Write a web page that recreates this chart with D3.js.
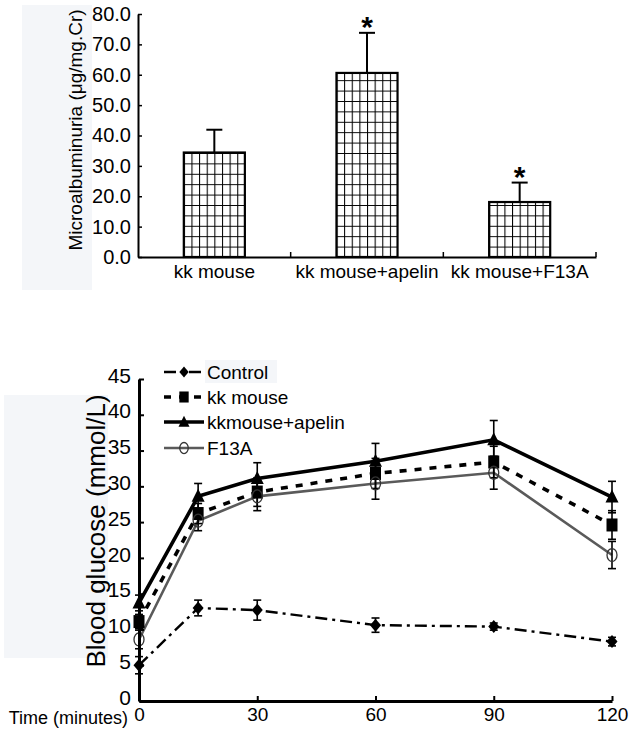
<!DOCTYPE html>
<html>
<head>
<meta charset="utf-8">
<script src="https://cdn.jsdelivr.net/npm/d3@7"></script>
<style>
  body { margin: 0; background: #fff; }
  svg { display: block; font-family: "Liberation Sans", Arial, sans-serif; }
</style>
</head>
<body>
<svg width="629" height="729"></svg>
<script>
// --- top chart data ---
var barCategories = ["kk mouse", "kk mouse+apelin", "kk mouse+F13A"];
var barMeans = [34.4, 60.6, 18.1];
var barErrors = [7.5, 13.2, 6.4];
var barStars = [false, true, true];
var barTicks = [0, 10, 20, 30, 40, 50, 60, 70, 80];

// --- bottom chart data ---
var times = [0, 15, 30, 60, 90, 120];
var seriesNames = ["Control", "kk mouse", "kkmouse+apelin", "F13A"];
var controlMean = [5.0, 13.0, 12.7, 10.6, 10.4, 8.3];
var controlErr = [1.2, 1.1, 1.4, 1.0, 0.5, 0.6];
var kkMean = [11.1, 26.2, 29.2, 31.8, 33.4, 24.6];
var kkErr = [1.0, 1.4, 2.0, 2.1, 2.2, 2.0];
var apelinMean = [13.7, 28.6, 31.1, 33.5, 36.5, 28.5];
var apelinErr = [1.1, 1.8, 2.2, 2.5, 2.7, 2.2];
var f13aMean = [8.6, 25.2, 28.6, 30.4, 31.9, 20.4];
var f13aErr = [1.3, 1.4, 2.0, 2.2, 2.3, 1.9];
var timeTicks = [0, 30, 60, 90, 120];
var glucoseTicks = [0, 5, 10, 15, 20, 25, 30, 35, 40, 45];

var svg = d3.select("svg");

// faint scan background patches
svg.append("rect").attr("x", 22).attr("y", 5).attr("width", 70).attr("height", 285).attr("fill", "#f4f6f9");
svg.append("rect").attr("x", 4).attr("y", 395).attr("width", 104).attr("height", 263).attr("fill", "#f4f6f9");
svg.append("rect").attr("x", 205).attr("y", 360).attr("width", 72).attr("height", 23).attr("fill", "#f4f6f9");

// ================= top bar chart =================
var xTop = d3.scaleBand().domain(barCategories).range([138, 596]).paddingInner(0.6).paddingOuter(0.3);
var yTop = d3.scaleLinear().domain([0, 80]).range([257, 14]);

var cellW = xTop.bandwidth() / 8, cellH = 10.4;
var pat = svg.append("defs").append("pattern")
    .attr("id", "grid")
    .attr("patternUnits", "userSpaceOnUse")
    .attr("x", xTop(barCategories[0]))
    .attr("y", yTop(0))
    .attr("width", cellW)
    .attr("height", cellH);
pat.append("rect").attr("width", cellW).attr("height", cellH).attr("fill", "#fff");
pat.append("path")
    .attr("d", "M0.5,0V" + cellH + "M0,0.5H" + cellW)
    .attr("stroke", "#000").attr("stroke-width", 1.1).attr("fill", "none");

var bars = barCategories.map(function (c, i) {
    return { name: c, mean: barMeans[i], err: barErrors[i], star: barStars[i] };
});

var gTop = svg.append("g");

bars.forEach(function (b) {
    var cx = xTop(b.name) + xTop.bandwidth() / 2;
    gTop.append("line")
        .attr("x1", cx).attr("x2", cx)
        .attr("y1", yTop(b.mean)).attr("y2", yTop(b.mean + b.err))
        .attr("stroke", "#000").attr("stroke-width", 2);
    gTop.append("line")
        .attr("x1", cx - 8).attr("x2", cx + 8)
        .attr("y1", yTop(b.mean + b.err)).attr("y2", yTop(b.mean + b.err))
        .attr("stroke", "#000").attr("stroke-width", 2);

    gTop.append("rect")
        .attr("x", xTop(b.name))
        .attr("y", yTop(b.mean))
        .attr("width", xTop.bandwidth())
        .attr("height", yTop(0) - yTop(b.mean))
        .attr("fill", "url(#grid)")
        .attr("stroke", "#000")
        .attr("stroke-width", 2.2);

    if (b.star) {
        gTop.append("text")
            .attr("x", cx)
            .attr("y", yTop(b.mean + b.err) + 4)
            .attr("text-anchor", "middle")
            .attr("font-size", 30)
            .attr("font-weight", "bold")
            .text("*");
    }
});

var yAxisTop = gTop.append("g")
    .attr("transform", "translate(138,0)")
    .call(d3.axisLeft(yTop).tickValues(barTicks).tickSize(-4).tickSizeOuter(0)
        .tickPadding(7).tickFormat(d3.format(".1f")));
yAxisTop.selectAll("text").attr("font-size", 20).attr("fill", "#000").attr("font-family", null);
yAxisTop.select(".domain").attr("stroke-width", 2);
yAxisTop.selectAll(".tick line").attr("stroke-width", 1.5);

var xAxisTop = gTop.append("g")
    .attr("transform", "translate(0,257)")
    .call(d3.axisBottom(xTop).tickSize(0).tickPadding(8));
xAxisTop.selectAll("text").attr("font-size", 19).attr("fill", "#000").attr("font-family", null);
xAxisTop.select(".domain").attr("stroke-width", 2);

d3.range(1, barCategories.length + 1).forEach(function (i) {
    var bx = xTop.range()[0] + i * xTop.step();
    gTop.append("line")
        .attr("x1", bx).attr("x2", bx)
        .attr("y1", yTop(0)).attr("y2", yTop(0) - 5)
        .attr("stroke", "#000").attr("stroke-width", 1.5);
});

gTop.append("text")
    .attr("transform", "translate(75," + 130 + ") rotate(-90)")
    .attr("text-anchor", "middle")
    .attr("dy", "0.35em")
    .attr("font-size", 19)
    .text("Microalbuminuria (\u03bcg/mg.Cr)");

// ================= bottom line chart =================
var xB = d3.scaleLinear().domain([0, 120]).range([139, 612]);
var yB = d3.scaleLinear().domain([0, 45]).range([701, 379]);

var series = [
    { name: seriesNames[0], mean: controlMean, err: controlErr, color: "#000", width: 2.4, dash: "12,5,3,5", marker: "diamond" },
    { name: seriesNames[1], mean: kkMean, err: kkErr, color: "#000", width: 3.6, dash: "7,8", marker: "square" },
    { name: seriesNames[2], mean: apelinMean, err: apelinErr, color: "#000", width: 3.6, dash: null, marker: "triangle" },
    { name: seriesNames[3], mean: f13aMean, err: f13aErr, color: "#5a5a5a", width: 2.6, dash: null, marker: "circle" }
];

function drawMarker(g, type, x, y, s) {
    s = s || 1;
    if (type === "diamond") {
        g.append("path")
            .attr("d", "M" + x + "," + (y - 6.5 * s) + "L" + (x + 5.5 * s) + "," + y + "L" + x + "," + (y + 6.5 * s) + "L" + (x - 5.5 * s) + "," + y + "Z")
            .attr("fill", "#000");
    } else if (type === "square") {
        g.append("rect")
            .attr("x", x - 5.5 * s).attr("y", y - 6.5 * s)
            .attr("width", 11 * s).attr("height", 13 * s)
            .attr("fill", "#000");
    } else if (type === "triangle") {
        g.append("path")
            .attr("d", "M" + x + "," + (y - 7.5 * s) + "L" + (x + 6.5 * s) + "," + (y + 5.5 * s) + "L" + (x - 6.5 * s) + "," + (y + 5.5 * s) + "Z")
            .attr("fill", "#000");
    } else {
        g.append("ellipse")
            .attr("cx", x).attr("cy", y)
            .attr("rx", 5 * s).attr("ry", 6.5 * s)
            .attr("fill", "none")
            .attr("stroke", "#333")
            .attr("stroke-width", 1.3);
    }
}

var gB = svg.append("g");
var line = d3.line()
    .x(function (d) { return xB(d.t); })
    .y(function (d) { return yB(d.v); });

series.forEach(function (s) {
    var pts = times.map(function (t, i) { return { t: t, v: s.mean[i], e: s.err[i] }; });
    gB.append("path")
        .datum(pts)
        .attr("d", line)
        .attr("fill", "none")
        .attr("stroke", s.color)
        .attr("stroke-width", s.width)
        .attr("stroke-dasharray", s.dash);
});

series.forEach(function (s) {
    times.forEach(function (t, i) {
        var cx = xB(t), lo = yB(s.mean[i] - s.err[i]), hi = yB(s.mean[i] + s.err[i]);
        gB.append("line").attr("x1", cx).attr("x2", cx).attr("y1", lo).attr("y2", hi)
            .attr("stroke", "#000").attr("stroke-width", 1.6);
        [lo, hi].forEach(function (yy) {
            gB.append("line").attr("x1", cx - 4).attr("x2", cx + 4).attr("y1", yy).attr("y2", yy)
                .attr("stroke", "#000").attr("stroke-width", 1.6);
        });
    });
});

series.forEach(function (s) {
    times.forEach(function (t, i) {
        drawMarker(gB, s.marker, xB(t), yB(s.mean[i]));
    });
});

var yAxisB = gB.append("g")
    .attr("transform", "translate(139,0)")
    .call(d3.axisLeft(yB).tickValues(glucoseTicks).tickSize(-5).tickSizeOuter(0).tickPadding(8));
yAxisB.selectAll("text").attr("font-size", 21).attr("fill", "#000").attr("font-family", null).attr("dy", "0.15em");
yAxisB.select(".domain").attr("stroke-width", 3);
yAxisB.selectAll(".tick line").attr("stroke-width", 2);

var xAxisB = gB.append("g")
    .attr("transform", "translate(0,701)")
    .call(d3.axisBottom(xB).tickValues(timeTicks).tickSize(-5).tickSizeOuter(0).tickPadding(7));
xAxisB.selectAll("text").attr("font-size", 19).attr("fill", "#000").attr("font-family", null);
xAxisB.select(".domain").attr("stroke-width", 3);
xAxisB.selectAll(".tick line").attr("stroke-width", 2);

gB.append("text")
    .attr("x", 128).attr("y", 724)
    .attr("text-anchor", "end")
    .attr("font-size", 18)
    .text("Time (minutes)");

gB.append("text")
    .attr("transform", "translate(96,531) rotate(-90)")
    .attr("text-anchor", "middle")
    .attr("dy", "0.35em")
    .attr("font-size", 26)
    .text("Blood glucose (mmol/L)");

// legend
var legendY = [372, 397, 422, 448];
series.forEach(function (s, i) {
    var ly = legendY[i];
    var lg = gB.append("g");
    lg.append("line")
        .attr("x1", 164).attr("x2", 204).attr("y1", ly).attr("y2", ly)
        .attr("stroke", s.color)
        .attr("stroke-width", s.width)
        .attr("stroke-dasharray", s.dash);
    drawMarker(lg, s.marker, 184, ly, 0.85);
    lg.append("text")
        .attr("x", 207).attr("y", ly)
        .attr("dy", "0.35em")
        .attr("font-size", 19)
        .text(s.name);
});
</script>
</body>
</html>
